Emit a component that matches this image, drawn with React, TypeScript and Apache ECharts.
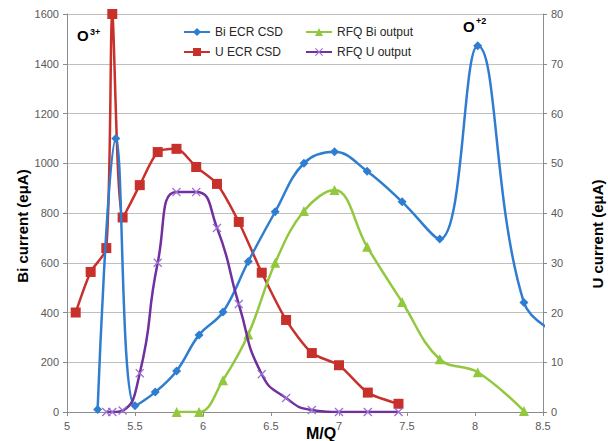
import React, { useEffect, useRef } from 'react';
import * as echarts from 'echarts';

// M/Q positions
const biX = [5.225, 5.359, 5.5, 5.649, 5.806, 5.971, 6.147, 6.333, 6.531, 6.742, 6.967, 7.207, 7.464, 7.741, 8.02, 8.36, 8.708];
const biEcr = [10, 1100, 25, 80, 165, 310, 402, 605, 805, 1000, 1046, 968, 845, 695, 1472, 440, 290];

const uX = [5.064, 5.174, 5.289, 5.333, 5.409, 5.535, 5.667, 5.805, 5.95, 6.103, 6.263, 6.432, 6.611, 6.8, 7.0, 7.212, 7.4375];
const uEcr = [400, 563, 659, 1600, 782, 912, 1045, 1058, 985, 917, 764, 560, 370, 237, 188, 78, 33];

const rfqBiX = [5.806, 5.971, 6.147, 6.333, 6.531, 6.742, 6.967, 7.207, 7.464, 7.741, 8.02, 8.36];
const rfqBi = [0, 0, 6.4, 15.6, 30, 40.4, 44.6, 33.2, 22.1, 10.6, 8.0, 0.2];

const rfqUX = [5.289, 5.333, 5.409, 5.535, 5.667, 5.805, 5.95, 6.103, 6.263, 6.432, 6.611, 6.8, 7.0, 7.212, 7.4375];
const rfqU = [0, 0, 0.3, 7.8, 30, 44.2, 44.2, 37, 21.7, 7.6, 2.8, 0.4, 0, 0, 0];

const seriesNames = ['Bi ECR CSD', 'U ECR CSD', 'RFQ Bi output', 'RFQ U output'];

const pairs = (xs: number[], ys: number[]) => xs.map((x, i) => [x, ys[i]]);

const FONT = 'Liberation Sans, Arial, sans-serif';
const CROSS = 'path://M1,0 L5,4 L9,0 L10,1 L6,5 L10,9 L9,10 L5,6 L1,10 L0,9 L4,5 L0,1 Z';

export default function App() {
  const ref = useRef<HTMLDivElement>(null);
  useEffect(() => {
    const chart = echarts.init(ref.current!, null, { renderer: 'svg' });
    const legendText = { fontSize: 12, color: '#262626', fontFamily: FONT };
    chart.setOption({
      animation: false,
      backgroundColor: '#ffffff',
      grid: { left: 67, right: 65, top: 14, bottom: 29, containLabel: false },
      legend: [
        {
          data: [seriesNames[0], seriesNames[1]],
          orient: 'vertical',
          left: 178,
          top: 21,
          itemWidth: 26,
          itemHeight: 10,
          itemGap: 8,
          textStyle: legendText,
        },
        {
          data: [seriesNames[2], seriesNames[3]],
          orient: 'vertical',
          left: 300,
          top: 21,
          itemWidth: 26,
          itemHeight: 10,
          itemGap: 8,
          textStyle: legendText,
        },
      ],
      xAxis: {
        type: 'value',
        min: 5,
        max: 8.5,
        interval: 0.5,
        axisLine: { show: true, lineStyle: { color: '#8c8c8c', width: 1 } },
        axisTick: { show: true, length: 4, lineStyle: { color: '#8c8c8c' } },
        axisLabel: { color: '#595959', fontSize: 11, fontFamily: FONT, margin: 8, formatter: (v: number) => String(v) },
        splitLine: { show: false },
      },
      yAxis: [
        {
          type: 'value',
          min: 0,
          max: 1600,
          interval: 200,
          axisLine: { show: true, lineStyle: { color: '#8c8c8c', width: 1 } },
          axisTick: { show: true, length: 4, lineStyle: { color: '#8c8c8c' } },
          axisLabel: { color: '#595959', fontSize: 11, fontFamily: FONT, margin: 8, formatter: (v: number) => String(v) },
          splitLine: { show: true, lineStyle: { color: '#bfbfbf', width: 1 } },
        },
        {
          type: 'value',
          min: 0,
          max: 80,
          interval: 10,
          position: 'right',
          axisLine: { show: true, lineStyle: { color: '#8c8c8c', width: 1 } },
          axisTick: { show: true, length: 4, lineStyle: { color: '#8c8c8c' } },
          axisLabel: { color: '#595959', fontSize: 11, fontFamily: FONT, margin: 8, formatter: (v: number) => String(v) },
          splitLine: { show: false },
        },
      ],
      series: [
        {
          name: seriesNames[0],
          type: 'line',
          yAxisIndex: 0,
          data: pairs(biX, biEcr),
          smooth: 0.4,
          clip: true,
          symbol: 'diamond',
          symbolSize: 9,
          lineStyle: { color: '#2f7dd0', width: 2.5 },
          itemStyle: { color: '#2f7dd0' },
          z: 3,
        },
        {
          name: seriesNames[1],
          type: 'line',
          yAxisIndex: 0,
          data: pairs(uX, uEcr),
          smooth: 0.25,
          clip: true,
          symbol: 'rect',
          symbolSize: 10,
          lineStyle: { color: '#c8302b', width: 2.5 },
          itemStyle: { color: '#c8302b' },
          z: 2,
        },
        {
          name: seriesNames[2],
          type: 'line',
          yAxisIndex: 1,
          data: pairs(rfqBiX, rfqBi),
          smooth: 0.4,
          clip: true,
          symbol: 'triangle',
          symbolSize: 10,
          lineStyle: { color: '#92c83e', width: 2.5 },
          itemStyle: { color: '#92c83e' },
          z: 4,
        },
        {
          name: seriesNames[3],
          type: 'line',
          yAxisIndex: 1,
          data: pairs(rfqUX, rfqU),
          smooth: 0.55,
          clip: true,
          symbol: CROSS,
          symbolSize: 9,
          lineStyle: { color: '#7030a0', width: 2.5 },
          itemStyle: { color: '#9b6fd0' },
          z: 5,
        },
      ],
      graphic: [
        {
          type: 'text',
          x: 22,
          y: 226,
          rotation: Math.PI / 2,
          style: { text: 'Bi current (eμA)', font: `bold 15px ${FONT}`, fill: '#000', align: 'center', verticalAlign: 'middle' },
        },
        {
          type: 'text',
          x: 597,
          y: 234,
          rotation: Math.PI / 2,
          style: { text: 'U current (eμA)', font: `bold 15px ${FONT}`, fill: '#000', align: 'center', verticalAlign: 'middle' },
        },
        {
          type: 'text',
          x: 321,
          y: 425,
          style: { text: 'M/Q', font: `bold 16px ${FONT}`, fill: '#000', align: 'center', verticalAlign: 'top' },
        },
        {
          type: 'text',
          x: 77,
          y: 28,
          style: { text: 'O', font: `bold 15px ${FONT}`, fill: '#000', align: 'left', verticalAlign: 'top' },
        },
        {
          type: 'text',
          x: 90,
          y: 27,
          style: { text: '3+', font: `bold 9px ${FONT}`, fill: '#000', align: 'left', verticalAlign: 'top' },
        },
        {
          type: 'text',
          x: 463,
          y: 19,
          style: { text: 'O', font: `bold 15px ${FONT}`, fill: '#000', align: 'left', verticalAlign: 'top' },
        },
        {
          type: 'text',
          x: 476,
          y: 16,
          style: { text: '+2', font: `bold 9px ${FONT}`, fill: '#000', align: 'left', verticalAlign: 'top' },
        },
      ],
    });
    return () => chart.dispose();
  }, []);
  return (
    <div
      ref={ref}
      style={{ position: 'absolute', left: 0, top: 0, width: 608, height: 441, background: '#fff' }}
    />
  );
}
